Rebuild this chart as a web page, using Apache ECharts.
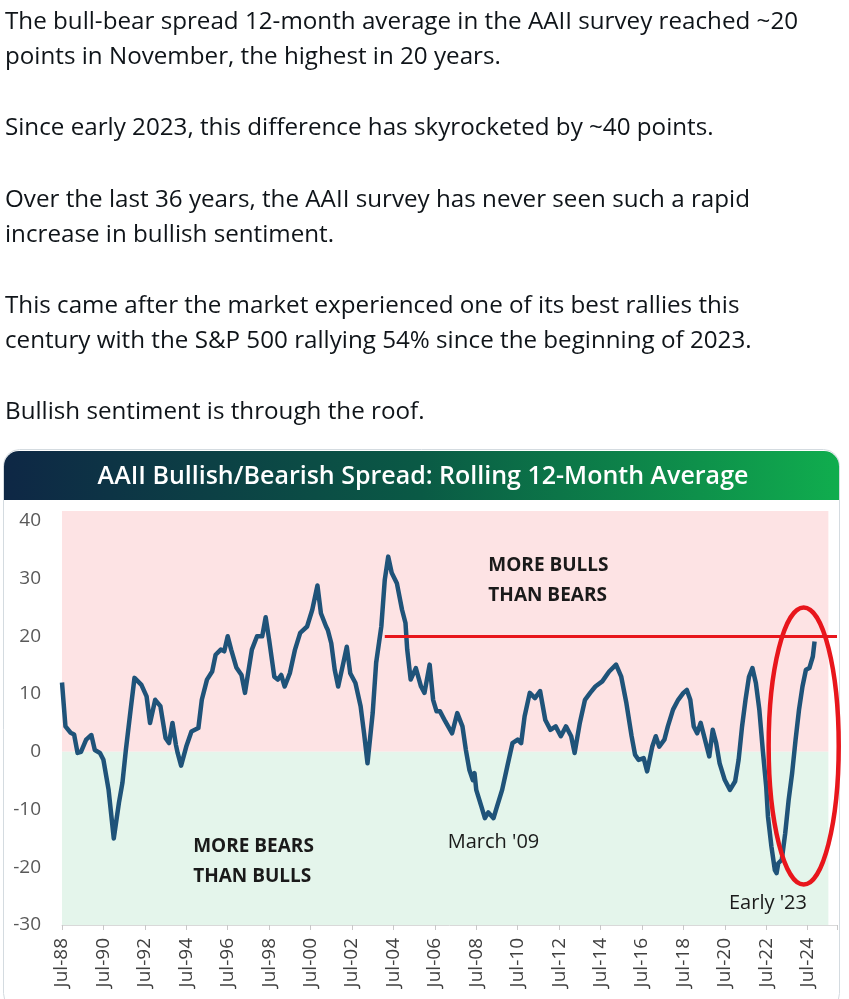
<!DOCTYPE html>
<html>
<head>
<meta charset="utf-8">
<script src="https://cdn.jsdelivr.net/npm/echarts@6/dist/echarts.min.js"></script>
<style>
html, body { margin: 0; padding: 0; background: #fff; }
#container { width: 849px; height: 999px; }
</style>
</head>
<body>
<div id="container"></div>
<script>
// tweet text above the chart
var tweetLines = [
    'The bull-bear spread 12-month average in the AAII survey reached ~20',
    'points in November, the highest in 20 years.',
    'Since early 2023, this difference has skyrocketed by ~40 points.',
    'Over the last 36 years, the AAII survey has never seen such a rapid',
    'increase in bullish sentiment.',
    'This came after the market experienced one of its best rallies this',
    'century with the S&P 500 rallying 54% since the beginning of 2023.',
    'Bullish sentiment is through the roof.'
];
var tweetLineY = [22, 57, 128, 200, 235, 306, 341, 412];

var chartTitle = 'AAII Bullish/Bearish Spread: Rolling 12-Month Average';

// (month, bull-bear spread 12m avg)
var dates = [
    '1988-07','1988-09','1988-12','1989-02','1989-04','1989-06','1989-09','1989-12',
    '1990-02','1990-05','1990-07','1990-10','1991-01','1991-04','1991-06','1991-08',
    '1991-11','1992-01','1992-05','1992-08','1992-10','1993-01','1993-04','1993-07',
    '1993-09','1993-11','1994-01','1994-02','1994-04','1994-07','1994-10','1995-02',
    '1995-04','1995-07','1995-10','1995-12','1996-03','1996-05','1996-07','1996-09',
    '1996-12','1997-03','1997-05','1997-09','1997-12','1998-03','1998-05','1998-07',
    '1998-10','1998-12','1999-02','1999-04','1999-07','1999-10','2000-01','2000-05',
    '2000-08','2000-11','2001-01','2001-04','2001-05','2001-07','2001-09','2001-11',
    '2002-02','2002-04','2002-06','2002-09','2002-12','2003-02','2003-04','2003-07',
    '2003-09','2003-12','2004-02','2004-04','2004-06','2004-09','2004-12','2005-02',
    '2005-03','2005-05','2005-08','2005-11','2006-01','2006-04','2006-06','2006-08',
    '2006-10','2007-01','2007-05','2007-08','2007-11','2008-01','2008-03','2008-05',
    '2008-06','2008-07','2008-10','2008-12','2009-02','2009-05','2009-07','2009-10',
    '2010-01','2010-04','2010-07','2010-09','2010-11','2011-02','2011-05','2011-08',
    '2011-11','2012-02','2012-05','2012-08','2012-11','2013-02','2013-04','2013-07',
    '2013-10','2014-01','2014-04','2014-08','2014-12','2015-04','2015-07','2015-10',
    '2016-01','2016-03','2016-05','2016-08','2016-10','2017-01','2017-03','2017-05',
    '2017-08','2017-10','2018-01','2018-04','2018-07','2018-09','2018-11','2019-01',
    '2019-03','2019-05','2019-07','2019-10','2019-12','2020-02','2020-04','2020-07',
    '2020-10','2021-01','2021-03','2021-05','2021-07','2021-09','2021-11','2022-01',
    '2022-03','2022-05','2022-07','2022-08','2022-10','2022-12','2023-01','2023-02',
    '2023-04','2023-06','2023-08','2023-10','2023-12','2024-02','2024-04','2024-06',
    '2024-08','2024-10','2024-11'
];
var spread = [
    12, 4.4, 3.3, 3.0, -0.2, 0, 2.1, 2.9,
    0.3, -0.2, -1.4, -6.6, -15, -8.8, -5.4, 0.3,
    7.9, 12.8, 11.6, 9.6, 5, 9, 7.9, 2.4,
    1.5, 5, 1.2, -0.2, -2.4, 0.9, 3.5, 4.1,
    9, 12.5, 13.9, 16.8, 17.7, 17.4, 20, 17.7,
    14.6, 13.3, 10.2, 17.7, 20, 20, 23.3, 19.4,
    13, 12.5, 13.3, 11.3, 13.6, 17.7, 20.6, 21.7,
    24.6, 28.8, 24, 21.7, 21.1, 18.8, 14.2, 11.3,
    15.4, 18.2, 13.6, 11.9, 7.9, 3.2, -2, 6.7,
    15.4, 21.7, 29.8, 33.8, 31, 29.2, 24.6, 22.3,
    17.7, 12.5, 14.5, 11.3, 10.2, 15.1, 9, 7,
    7, 5.3, 3.2, 6.7, 4.4, 0.3, -3.1, -4.9,
    -3.7, -6.6, -9.5, -11.5, -10.5, -11.5, -9.5, -6.6,
    -2.5, 1.5, 2.1, 1.5, 6.1, 10.2, 9.3, 10.5,
    5.5, 3.8, 4.4, 2.7, 4.4, 2.7, -0.2, 5,
    9, 10.2, 11.3, 12.2, 13.9, 15.1, 13, 8.4,
    2.7, -0.5, -1.4, -1.1, -3.4, 0.9, 2.7, 0.9,
    2.1, 4.4, 7.3, 9, 10.2, 10.7, 9, 4.4,
    3.2, 5, 2.7, -0.8, 3.8, 1.5, -2, -4.9,
    -6.6, -5.1, -1.4, 4.4, 9, 13, 14.5, 11.9,
    7.3, 0.3, -6.1, -11.2, -16.4, -20.5, -21, -19.3,
    -18.7, -14.1, -8.3, -3.7, 2.1, 7.3, 11.3, 14.2,
    14.5, 16.5, 19.1
];

// 20-year-high reference line
var refLevel = 20;
var refFrom = '2004-02';

var notes = [
    ['2009-02', 29.6, 'MORE BULLS\nTHAN BEARS', 'left', 'bold'],
    ['1994-11', -19.1, 'MORE BEARS\nTHAN BULLS', 'left', 'bold'],
    ['2009-05', -15.6, "March '09", 'center', 'normal'],
    ['2022-08', -26.2, "Early '23", 'center', 'normal']
];

// months counted from Jul-1988
function toMonth(s) {
    var p = s.split('-');
    return (+p[0] - 1988) * 12 + (+p[1] - 7);
}

var xMax = 449;
var areaEnd = 444;
var yMin = -30, yMax = 41.7;

var lineData = [];
for (var i = 0; i < dates.length; i++) {
    lineData.push([toMonth(dates[i]), spread[i]]);
}

var dom = document.getElementById('container');
var myChart = echarts.init(dom);

var chartFont = '"Open Sans", sans-serif';

var option = {
    backgroundColor: '#fff',
    animation: false,
    grid: { left: 62, top: 511, right: 12, bottom: 74 },
    xAxis: [{
        type: 'value',
        min: 0,
        max: xMax,
        interval: 24,
        splitLine: { show: false },
        axisLine: { show: false },
        axisTick: { show: false },
        axisLabel: {
            rotate: 90,
            margin: 13,
            color: '#404040',
            fontSize: 19,
            fontFamily: chartFont,
            formatter: function (v) {
                if (v % 24 !== 0) return '';
                var yr = (88 + v / 12) % 100;
                return 'Jul-' + (yr < 10 ? '0' : '') + yr;
            }
        }
    }, {
        type: 'value',
        min: 0,
        max: xMax,
        interval: 24,
        position: 'bottom',
        splitLine: { show: false },
        axisLine: { show: true, onZero: true, lineStyle: { color: '#d9d9d9', width: 1 } },
        axisTick: { show: true, length: 5, lineStyle: { color: '#c8c8c8' } },
        axisLabel: { show: false }
    }],
    yAxis: {
        type: 'value',
        min: yMin,
        max: yMax,
        interval: 10,
        splitLine: { show: false },
        axisLine: { show: false },
        axisTick: { show: false },
        axisLabel: {
            margin: 21,
            color: '#595959',
            fontSize: 19,
            fontFamily: chartFont,
            formatter: function (v) {
                return (v % 10 === 0) ? String(v) : '';
            }
        }
    },
    series: [{
        type: 'line',
        xAxisIndex: 0,
        data: lineData,
        showSymbol: false,
        symbol: 'none',
        z: 3,
        lineStyle: { color: '#1f5379', width: 4.5, join: 'round' },
        markArea: {
            silent: true,
            z: 1,
            data: [
                [{ coord: [0, 0], itemStyle: { color: '#fde3e4' } }, { coord: [areaEnd, yMax] }],
                [{ coord: [0, yMin], itemStyle: { color: '#e4f5eb' } }, { coord: [areaEnd, 0] }]
            ]
        },
        markLine: {
            silent: true,
            symbol: 'none',
            label: { show: false },
            lineStyle: { color: '#e8161c', width: 3, type: 'solid' },
            data: [[{ coord: [toMonth(refFrom), refLevel] }, { coord: [xMax, refLevel] }]]
        }
    }]
};
myChart.setOption(option, true);

// text, banner and the red ring are placed after the axes exist
var g = [];
for (var i = 0; i < tweetLines.length; i++) {
    g.push({
        type: 'text', x: 5, y: tweetLineY[i],
        style: {
            text: tweetLines[i], fill: '#0f1419', font: '24.2px "Open Sans", sans-serif',
            textVerticalAlign: 'middle'
        }
    });
}
g.push({
    type: 'rect', shape: { x: 3.5, y: 449.5, width: 836, height: 560, r: 16 },
    style: { fill: 'none', stroke: '#d4dbe0', lineWidth: 1 }, z: 0
});
g.push({
    type: 'rect', shape: { x: 4, y: 451, width: 835, height: 49, r: [15, 15, 0, 0] },
    style: {
        fill: {
            type: 'linear', x: 0, y: 0, x2: 1, y2: 0,
            colorStops: [
                { offset: 0, color: '#0e2745' },
                { offset: 0.5, color: '#0a5a45' },
                { offset: 1, color: '#10ad4e' }
            ]
        }
    }
});
g.push({
    type: 'text', x: 423, y: 477,
    style: {
        text: chartTitle, fill: '#fff', font: '600 25px "Open Sans", sans-serif',
        textAlign: 'center', textVerticalAlign: 'middle'
    }
});
for (var j = 0; j < notes.length; j++) {
    var p = myChart.convertToPixel({ xAxisIndex: 0, yAxisIndex: 0 }, [toMonth(notes[j][0]), notes[j][1]]);
    g.push({
        type: 'text', x: p[0], y: p[1], z: 10,
        style: {
            text: notes[j][2], fill: '#1a1a1a',
            font: notes[j][4] + ' ' + (notes[j][4] === 'bold' ? 19 : 20) + 'px "Open Sans", sans-serif',
            lineHeight: 30, textAlign: notes[j][3], textVerticalAlign: 'middle'
        }
    });
}
var c = myChart.convertToPixel({ xAxisIndex: 0, yAxisIndex: 0 }, [429.7, 1]);
var e = myChart.convertToPixel({ xAxisIndex: 0, yAxisIndex: 0 }, [450, 25]);
g.push({
    type: 'ellipse', z: 20,
    shape: { cx: c[0], cy: c[1], rx: e[0] - c[0], ry: c[1] - e[1] },
    style: { fill: 'none', stroke: '#e8161c', lineWidth: 4.5 }
});
myChart.setOption({ graphic: { elements: g } });
</script>
</body>
</html>
